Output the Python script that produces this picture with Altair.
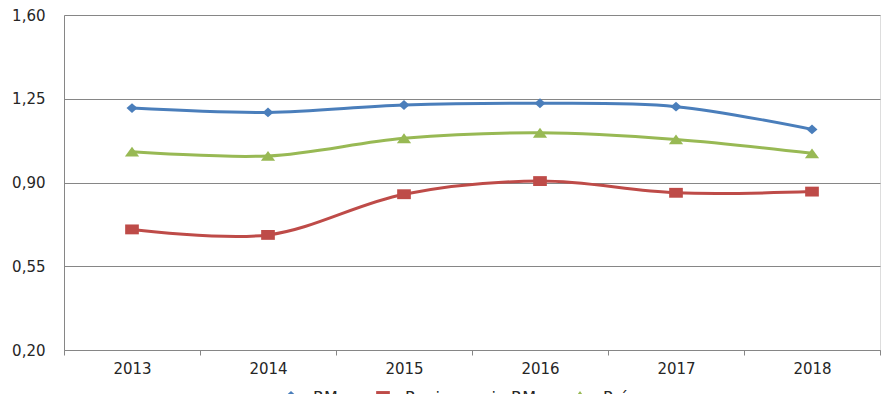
import altair as alt
import pandas as pd

years = ["2013", "2014", "2015", "2016", "2017", "2018"]
series_names = ["RM", "Regiones sin RM", "País"]
rm = [1.211, 1.193, 1.224, 1.231, 1.217, 1.122]
regiones = [0.704, 0.681, 0.851, 0.906, 0.857, 0.862]
pais = [1.029, 1.011, 1.085, 1.108, 1.080, 1.022]
y_ticks = [0.20, 0.55, 0.90, 1.25, 1.60]
colors = ["#4A7EBB", "#BE4B48", "#98B954"]

rows = []
for name, vals in zip(series_names, [rm, regiones, pais]):
    for yr, v in zip(years, vals):
        rows.append({"year": yr, "value": v, "series": name})
df = pd.DataFrame(rows)

# marker shapes (diamond, square, triangle)
marker_paths = [
    "M0,-0.9L1,0L0,0.9L-1,0Z",
    "M-1.25,-0.9L1.25,-0.9L1.25,0.9L-1.25,0.9Z",
    "M0,-0.9L1.3,0.9L-1.3,0.9Z",
]
# horizontal offsets of the marker legends (one per series)
marker_legend_x = [221.5, 313.5, 510.5]

x_enc = alt.X("year:N", sort=years, title=None,
              scale=alt.Scale(type="band", paddingInner=0, paddingOuter=0),
              axis=alt.Axis(labelAngle=0, tickBand="extent", grid=False,
                            domainColor="#868686", tickColor="#868686", tickSize=5,
                            labelPadding=6, labelFontSize=15, labelFont="DejaVu Sans",
                            labelColor="#262626"))
y_enc = alt.Y("value:Q", title=None,
              scale=alt.Scale(domain=[0.2, 1.6], nice=False, zero=False),
              axis=alt.Axis(values=y_ticks, ticks=False, labelPadding=19,
                            labelExpr="replace(format(datum.value, '.2f'), '.', ',')",
                            gridColor="#868686", domainColor="#868686",
                            labelFontSize=15, labelFont="DejaVu Sans", labelColor="#262626"))

line_legend = alt.Legend(title=None, orient="none", direction="horizontal", padding=0,
                         columnPadding=15, labelFontSize=16, labelFont="DejaVu Sans",
                         legendX=202, legendY=360, symbolType="stroke",
                         symbolSize=1764, symbolStrokeWidth=3, labelOffset=2,
                         labelColor="#262626")

lines = alt.Chart(df).mark_line(interpolate="catmull-rom", strokeWidth=3).encode(
    x=x_enc, y=y_enc,
    color=alt.Color("series:N", sort=series_names,
                    scale=alt.Scale(domain=series_names, range=colors),
                    legend=line_legend),
)

point_layers = []
for name, col, path, lx in zip(series_names, colors, marker_paths, marker_legend_x):
    mleg = alt.Legend(title=None, orient="none", padding=0, legendX=lx, legendY=375.5,
                      symbolSize=120, symbolStrokeWidth=0, symbolOpacity=1,
                      labelExpr="''", labelFontSize=1, labelOffset=0)
    point_layers.append(
        alt.Chart(df).transform_filter(alt.datum.series == name)
        .mark_point(filled=True, size=120, opacity=1, strokeWidth=0)
        .encode(
            x=x_enc, y=y_enc,
            fill=alt.Fill("series:N", scale=alt.Scale(domain=[name], range=[col]), legend=mleg),
            shape=alt.Shape("series:N", scale=alt.Scale(domain=[name], range=[path]), legend=mleg),
        )
    )

chart = alt.layer(lines, *point_layers).resolve_scale(
    fill="independent", shape="independent"
).properties(
    width=816, height=335,
    autosize=alt.AutoSizeParams(type="none"),
    padding={"left": 56, "top": 7, "right": 2, "bottom": 44},
).configure_view(stroke=None).configure(background="white")

chart.save("out.html", embed_options={"renderer": "svg", "actions": False})
